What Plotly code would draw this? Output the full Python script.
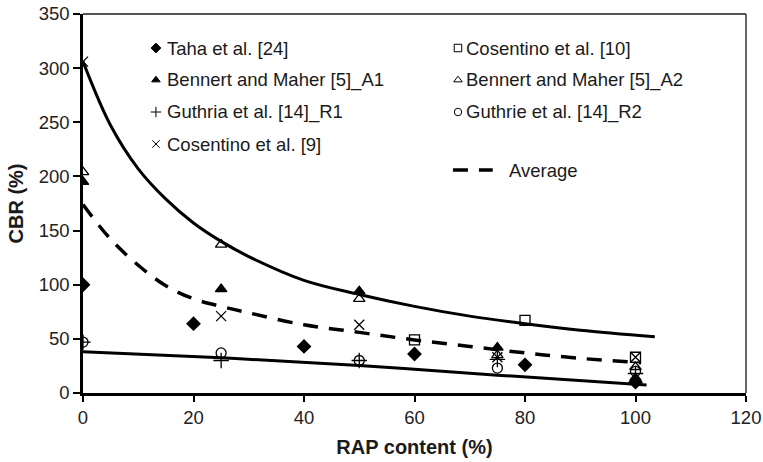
import plotly.graph_objects as go

# CBR measurements vs RAP content, by source
taha_x = [0, 20, 40, 60, 80, 100]
taha_y = [100, 64, 43, 36, 26, 10]
cos10_x = [60, 80, 100]
cos10_y = [49, 67, 33]
a1_x = [0, 25, 50, 75, 100]
a1_y = [195, 96, 94, 42, 14]
a2_x = [0, 25, 50, 75, 100]
a2_y = [204, 137, 87, 35, 24]
r1_x = [0, 25, 50, 75, 100]
r1_y = [47, 30, 30, 31, 18]
r2_x = [0, 25, 50, 75, 100]
r2_y = [47, 37, 30, 23, 20]
cos9_x = [0, 25, 50, 75, 100]
cos9_y = [306, 71, 63, 33, 33]

# Envelope and average trend curves
upper_x = [0, 5, 10, 15, 20, 25, 30, 40, 50, 60, 70, 80, 90, 103.5]
upper_y = [306, 247, 207, 179, 157, 140, 126, 104, 91, 80, 71, 64, 58, 52]
avg_x = [0, 5, 10, 15, 20, 25, 30, 40, 50, 60, 70, 80, 90, 101]
avg_y = [174, 142, 118, 99, 87, 80, 74, 63, 56, 49, 43, 37, 32, 28]
lower_x = [0, 25, 50, 75, 102]
lower_y = [38, 32.5, 25.5, 16.5, 7.5]

x_ticks = [0, 20, 40, 60, 80, 100, 120]
y_ticks = [0, 50, 100, 150, 200, 250, 300, 350]

FONT = "Arial, Liberation Sans, sans-serif"
INK = "#1a1a1a"

series = [
    ("Taha et al. [24]", taha_x, taha_y, "diamond", 10),
    ("Cosentino et al. [10]", cos10_x, cos10_y, "square-open", 10),
    ("Bennert and Maher [5]_A1", a1_x, a1_y, "triangle-up", 10),
    ("Bennert and Maher [5]_A2", a2_x, a2_y, "triangle-up-open", 10),
    ("Guthria et al. [14]_R1", r1_x, r1_y, "cross-thin-open", 11),
    ("Guthrie et al. [14]_R2", r2_x, r2_y, "circle-open", 10),
    ("Cosentino et al. [9]", cos9_x, cos9_y, "x-thin-open", 10),
]

fig = go.Figure()

fig.add_trace(go.Scatter(x=upper_x, y=upper_y, mode="lines", line=dict(color="black", width=3, shape="spline"),
                         showlegend=False, hoverinfo="skip"))
fig.add_trace(go.Scatter(x=lower_x, y=lower_y, mode="lines", line=dict(color="black", width=3, shape="spline"),
                         showlegend=False, hoverinfo="skip"))
fig.add_trace(go.Scatter(x=avg_x, y=avg_y, mode="lines", name="Average",
                         line=dict(color="black", width=3.5, dash="15px,11px", shape="spline"),
                         showlegend=False))

for name, xs, ys, sym, size in series:
    fig.add_trace(go.Scatter(x=xs, y=ys, mode="markers", name=name, showlegend=False,
                             marker=dict(symbol=sym, size=size, color="black",
                                         line=dict(color="black", width=1.3))))

# Hand-laid legend: two columns on an overlay axis spanning the plot area (0..1)
col_marker = [0.110, 0.5656]
col_text = [0.1237, 0.5747]
row_y = [0.9103, 0.8259, 0.7414, 0.657]
for i, (name, _, _, sym, _) in enumerate(series):
    col, row = i % 2, i // 2
    fig.add_trace(go.Scatter(x=[col_marker[col]], y=[row_y[row]], xaxis="x2", yaxis="y2",
                             mode="markers", showlegend=False, hoverinfo="skip",
                             marker=dict(symbol=sym, size=7.5, color="black",
                                         line=dict(color="black", width=1))))
    fig.add_annotation(x=col_text[col], y=row_y[row], xref="x2", yref="y2", text=name,
                       showarrow=False, xanchor="left", yanchor="middle",
                       font=dict(family=FONT, size=18.5, color=INK))

avg_row = 0.5884
fig.add_trace(go.Scatter(x=[0.558, 0.618], y=[avg_row, avg_row], xaxis="x2", yaxis="y2",
                         mode="lines", showlegend=False, hoverinfo="skip",
                         line=dict(color="black", width=3.5, dash="15px,11px")))
fig.add_annotation(x=0.6395, y=avg_row, xref="x2", yref="y2", text="Average",
                   showarrow=False, xanchor="left", yanchor="middle",
                   font=dict(family=FONT, size=18.5, color=INK))

# Frame: grey top and right edges
fig.add_shape(type="line", xref="paper", yref="paper", x0=0, x1=1, y0=1, y1=1,
              line=dict(color="#555555", width=2))
fig.add_shape(type="line", xref="paper", yref="paper", x0=1, x1=1, y0=0, y1=1,
              line=dict(color="#333333", width=1.5))

axis_font = dict(family=FONT, size=18.5, color="#222222")
fig.update_layout(
    width=763, height=462,
    margin=dict(l=83, r=17, t=14, b=69),
    paper_bgcolor="white", plot_bgcolor="white",
    showlegend=False,
    xaxis=dict(range=[0, 120], tickvals=x_ticks, showgrid=False, zeroline=False,
               showline=True, linecolor="black", linewidth=2.5, automargin=False,
               ticks="outside", ticklen=6, tickwidth=1.5, tickcolor="black",
               tickfont=axis_font,
               title=dict(text="<b>RAP content (%)</b>", standoff=14,
                          font=dict(family=FONT, size=20, color=INK))),
    yaxis=dict(range=[0, 350], tickvals=y_ticks, showgrid=False, zeroline=False,
               showline=True, linecolor="black", linewidth=2.5, automargin=False,
               ticks="outside", ticklen=7, tickwidth=1.5, tickcolor="black",
               tickfont=axis_font,
               title=dict(text="<b>CBR (%)</b>", standoff=10,
                          font=dict(family=FONT, size=20, color=INK))),
    xaxis2=dict(domain=[0, 1], range=[0, 1], overlaying="x", visible=False, fixedrange=True),
    yaxis2=dict(domain=[0, 1], range=[0, 1], overlaying="y", visible=False, fixedrange=True),
)

fig.write_html("out.html")
